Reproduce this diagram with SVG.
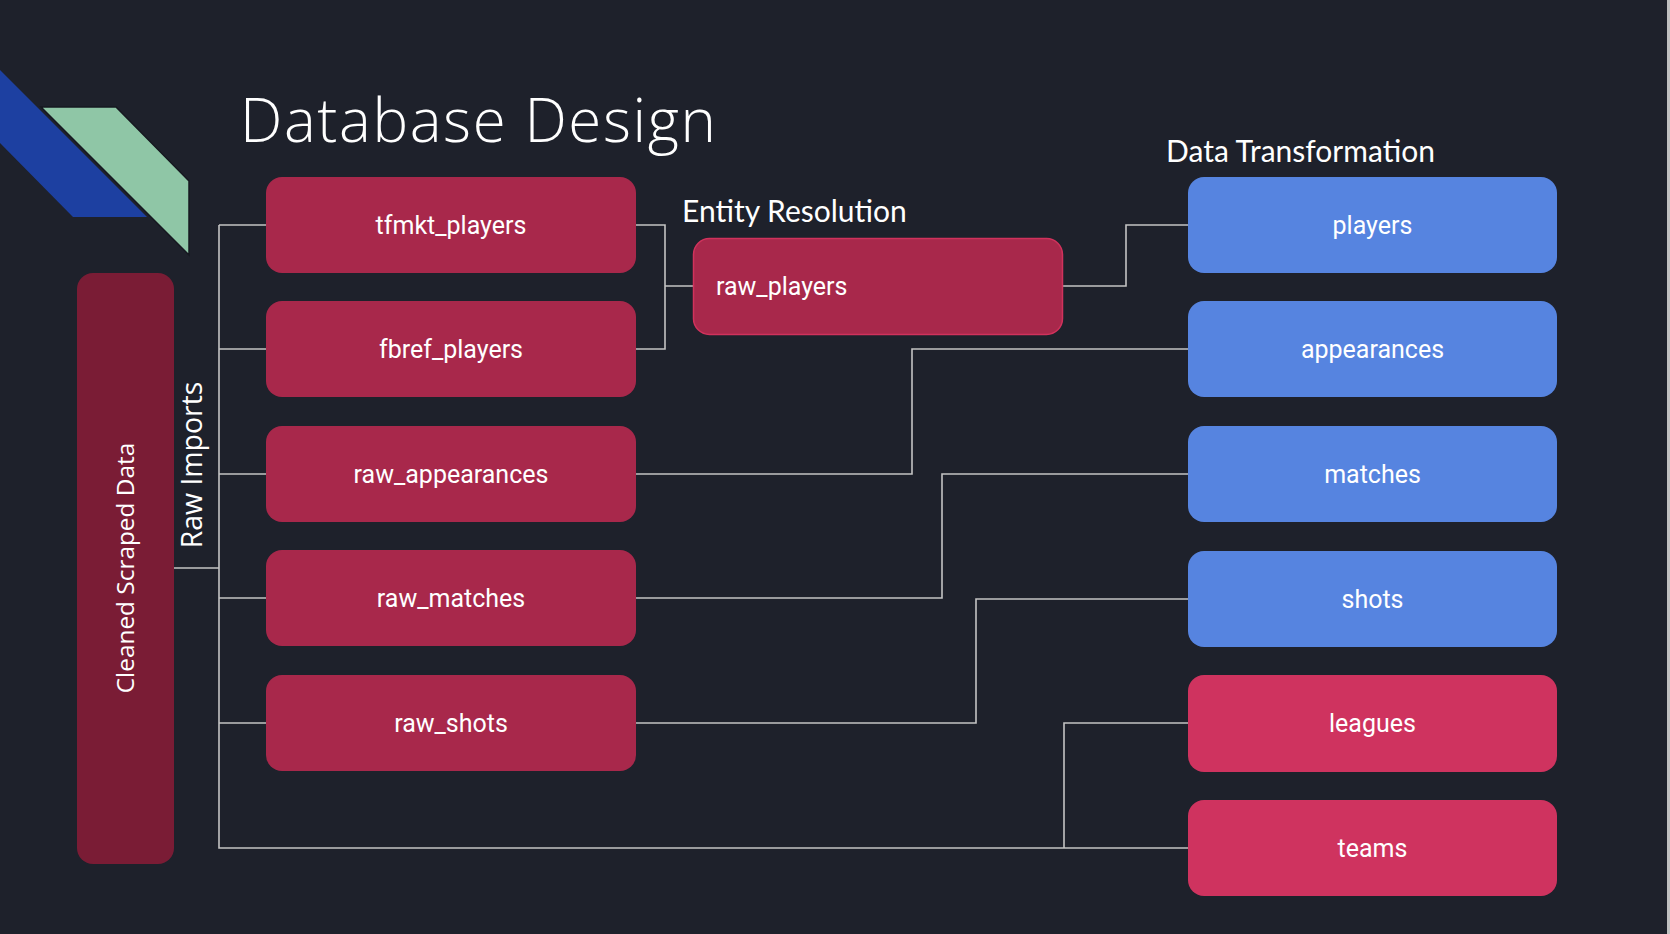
<svg xmlns="http://www.w3.org/2000/svg" width="1670" height="934" viewBox="0 0 1670 934">
<style>
.bg{fill:#1e212b}
.raw{fill:#a8284b}
.blue{fill:#5684e0}
.pink{fill:#cf335f}
.lbl{font-family:Roboto,"Liberation Sans",sans-serif;font-size:25px;fill:#ffffff;text-anchor:middle}
.hdr{font-family:Lato,"Open Sans","Liberation Sans",sans-serif;font-size:30px;fill:#ffffff}
.conn{fill:none;stroke:#c4c4c4;stroke-width:1.6}
</style>
<rect class="bg" x="0" y="0" width="1670" height="934"/>
<rect x="1667" y="0" width="3" height="934" fill="#c0c0c0"/>
<g id="decor">
<polygon points="0,70 147,217 73,217 0,143" fill="#1d40a1"/>
<polygon points="41,107 116,107 189,181 189,255" fill="#8fc6a6" stroke="#161820" stroke-width="1.5" stroke-linejoin="miter"/>
</g>
<text x="240" y="142" font-family="'Open Sans','Liberation Sans',sans-serif" font-weight="300" font-size="60" letter-spacing="1.6" fill="#ffffff">Database Design</text>
<text class="hdr" x="682" y="222">Entity Resolution</text>
<text class="hdr" x="1166" y="162">Data Transformation</text>
<g id="connectors">
<path class="conn" d="M174,568 H219"/>
<path class="conn" d="M219,225 V848 H1188"/>
<path class="conn" d="M219,225 H266 M219,349 H266 M219,474 H266 M219,598 H266 M219,723 H266"/>
<path class="conn" d="M636,225 H665 V349 H636 M665,286 H693"/>
<path class="conn" d="M1062,286 H1126 V225 H1188"/>
<path class="conn" d="M636,474 H912 V349 H1188"/>
<path class="conn" d="M636,598 H942 V474 H1188"/>
<path class="conn" d="M636,723 H976 V599 H1188"/>
<path class="conn" d="M1188,723 H1064 V848"/>
</g>
<g id="cleaned_scraped_data">
<rect x="77" y="273" width="97" height="591" rx="16" fill="#7a1c35"/>
<text transform="translate(134,568) rotate(-90)" font-family="'Open Sans','Liberation Sans',sans-serif" font-size="24.4" fill="#ffffff" text-anchor="middle">Cleaned Scraped Data</text>
</g>
<g id="raw_imports_label">
<text transform="translate(202,465) rotate(-90)" font-family="'Open Sans','Liberation Sans',sans-serif" font-size="28.4" fill="#ffffff" text-anchor="middle">Raw Imports</text>
</g>
<g id="tfmkt_players">
<rect class="raw" x="266" y="177" width="370" height="96" rx="16"/>
<text class="lbl" x="451" y="234">tfmkt_players</text>
</g>
<g id="fbref_players">
<rect class="raw" x="266" y="301" width="370" height="96" rx="16"/>
<text class="lbl" x="451" y="358">fbref_players</text>
</g>
<g id="raw_appearances">
<rect class="raw" x="266" y="426" width="370" height="96" rx="16"/>
<text class="lbl" x="451" y="483">raw_appearances</text>
</g>
<g id="raw_matches">
<rect class="raw" x="266" y="550" width="370" height="96" rx="16"/>
<text class="lbl" x="451" y="607">raw_matches</text>
</g>
<g id="raw_shots">
<rect class="raw" x="266" y="675" width="370" height="96" rx="16"/>
<text class="lbl" x="451" y="732">raw_shots</text>
</g>
<g id="raw_players">
<rect class="raw" x="693.5" y="238.5" width="369" height="96" rx="16" stroke="#d0325c" stroke-width="1.5"/>
<text class="lbl" x="716" y="295" style="text-anchor:start">raw_players</text>
</g>
<g id="players">
<rect class="blue" x="1188" y="177" width="369" height="96" rx="16"/>
<text class="lbl" x="1372.5" y="234">players</text>
</g>
<g id="appearances">
<rect class="blue" x="1188" y="301" width="369" height="96" rx="16"/>
<text class="lbl" x="1372.5" y="358">appearances</text>
</g>
<g id="matches">
<rect class="blue" x="1188" y="426" width="369" height="96" rx="16"/>
<text class="lbl" x="1372.5" y="483">matches</text>
</g>
<g id="shots">
<rect class="blue" x="1188" y="551" width="369" height="96" rx="16"/>
<text class="lbl" x="1372.5" y="608">shots</text>
</g>
<g id="leagues">
<rect class="pink" x="1188" y="675" width="369" height="97" rx="16"/>
<text class="lbl" x="1372.5" y="732">leagues</text>
</g>
<g id="teams">
<rect class="pink" x="1188" y="800" width="369" height="96" rx="16"/>
<text class="lbl" x="1372.5" y="857">teams</text>
</g>
</svg>
